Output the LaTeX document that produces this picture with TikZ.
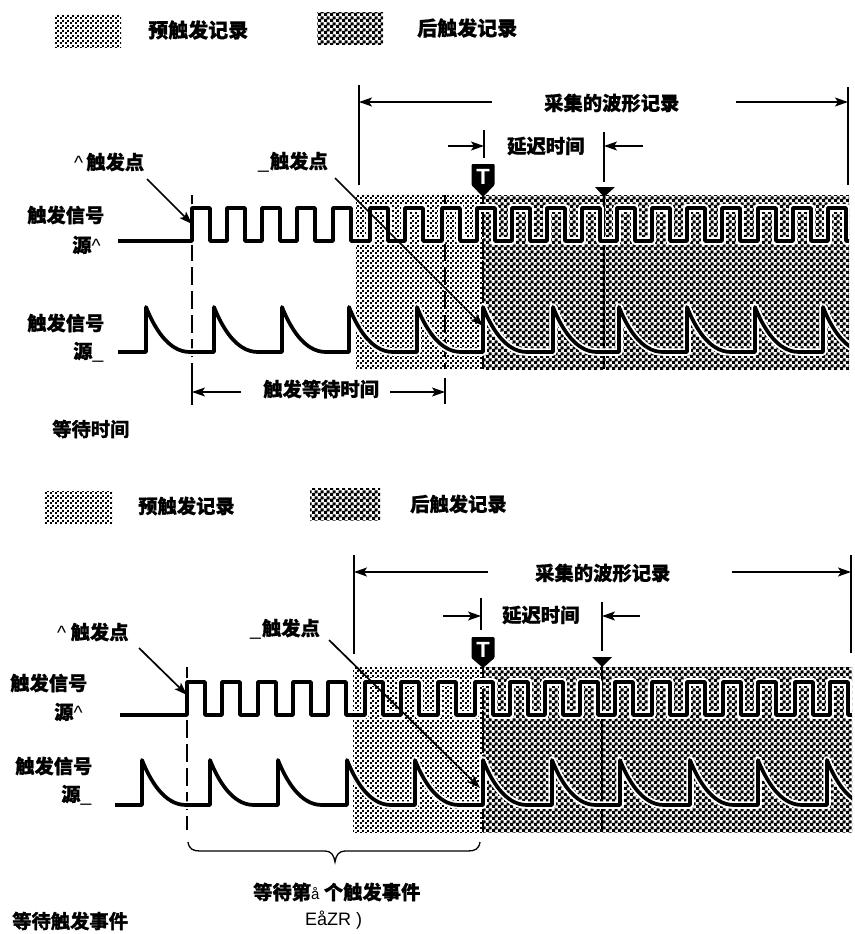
\documentclass[tikz,border=0pt]{standalone}
\usepackage{fontspec}
\usetikzlibrary{arrows.meta,patterns}
\setmainfont{Liberation Sans}
\newfontfamily\cjk{Noto Sans CJK SC}[BoldFeatures={FakeBold=0.7}]
\newfontfamily\cjkh{Noto Sans CJK SC}[UprightFont=* Bold,FakeBold=2]
\pgfdeclarepatternformonly{lightdots}{\pgfpointorigin}{\pgfqpoint{5pt}{5pt}}{\pgfqpoint{5pt}{5pt}}{
  \pgfpathrectangle{\pgfpoint{0pt}{0pt}}{\pgfpoint{2.1pt}{2.1pt}}
  \pgfpathrectangle{\pgfpoint{2.5pt}{2.5pt}}{\pgfpoint{2.1pt}{2.1pt}}
  \pgfusepath{fill}}
\pgfdeclarepatternformonly{darkcheck}{\pgfpointorigin}{\pgfqpoint{6pt}{6pt}}{\pgfqpoint{6pt}{6pt}}{
  \pgfpathrectangle{\pgfpoint{0pt}{0pt}}{\pgfpoint{3.5pt}{3.5pt}}
  \pgfpathrectangle{\pgfpoint{3pt}{3pt}}{\pgfpoint{3.5pt}{3.5pt}}
  \pgfusepath{fill}}
\tikzset{
  lightarea/.style={pattern=lightdots,pattern color=black},
  darkarea/.style={pattern=darkcheck,pattern color=black},
  lbl/.style={inner sep=0pt,anchor=west,font=\fontsize{19.3}{19.3}\selectfont\cjk\bfseries},
  heavy/.style={inner sep=0pt,anchor=west,font=\fontsize{19.3}{19.3}\selectfont\cjkh},
  halo/.style={white,line width=7.5pt,line join=round},
  wave/.style={black,line width=3.7pt,line join=round},
  dim/.style={line width=1.5pt,-{Stealth[length=13pt,width=9pt,inset=3pt]}},
  tick/.style={line width=2.2pt},
  leader/.style={line width=1.7pt,-{Stealth[length=13pt,width=9pt,inset=3pt]}},
  dash1/.style={line width=2.3pt,dash pattern=on 18pt off 6pt},
  heavydash/.style={line width=2.8pt,dash pattern=on 20pt off 2pt},
  solidv/.style={line width=2.5pt},
}
% #1 style, #2 start x, #3 low y, #4 high y, #5 rising edges, #6 end x
\newcommand{\sqwave}[6]{\draw[#1] (#2,#3) \foreach \r in {#5}{ -- (\r,#3) -- (\r,#4) -- ({\r+18},#4) -- ({\r+18},#3) } -- (#6,#3);}
% #1 style, #2 start x, #3 base y, #4 peak y, #5 rising edges
\newcommand{\expwave}[5]{\draw[#1] (#2,#3) \foreach \r in {#5}{ -- (\r,#3) -- (\r,#4) .. controls ({\r+8},{#4+20}) and ({\r+22},#3) .. ({\r+44},#3) };}
\newcommand{\up}{{\rmfamily\mdseries\textasciicircum}}
\newcommand{\ul}{{\rmfamily\mdseries\_}}
\newcommand{\tmark}[3]{\fill[black,rounded corners=1pt] ({#1-11.5},#2) -- ({#1+11.5},#2) -- ({#1+11.5},{#2+21}) -- (#1,#3) -- ({#1-11.5},{#2+21}) -- cycle;
  \node[inner sep=0pt,white,font=\fontsize{22}{22}\selectfont\bfseries] (t#2) at (#1,{#2+13}) {T};}
\begin{document}
\begin{tikzpicture}[x=1pt,y=-1pt]
\useasboundingbox (0,0) rectangle (854,934);
\fill[white] (0,0) rectangle (854,934);

%%%% upper legend
\fill[lightarea] (54,16) rectangle (121,48);
\node[lbl,font=\fontsize{20}{20}\selectfont\cjk\bfseries] (a1) at (148,30) {预触发记录};
\fill[darkarea] (317,13) rectangle (383,45);
\node[lbl,font=\fontsize{20}{20}\selectfont\cjk\bfseries] (a2) at (417,28) {后触发记录};

%%%% upper areas
\fill[lightarea] (356,195) rectangle (483,369);
\fill[darkarea] (483,195) rectangle (849,369);
\draw[solidv] (192,195) -- (192,241);
\draw[dash1] (192,243) -- (192,405);
\draw[dash1] (445,195) -- (445,369);
\draw[heavydash] (483,195) -- (483,369);
\draw[solidv] (604,190) -- (604,369);
\begin{scope}
\clip (100,150) rectangle (849,400);
\sqwave{halo}{118}{241}{208}{192,227,262,297,333,370,405,442,477,512,547,582,617,652,687,722,758,793,828}{849}
\expwave{halo}{118}{352}{307}{146,214,282,349,417,483,553,619,687,755,823}
\sqwave{wave}{118}{241}{208}{192,227,262,297,333,370,405,442,477,512,547,582,617,652,687,722,758,793,828}{849}
\expwave{wave}{118}{352}{307}{146,214,282,349,417,483,553,619,687,755,823}
\end{scope}
% record dimension
\coordinate (r1t) at (359,85); \coordinate (r1b) at (359,185);
\coordinate (r2t) at (848,87); \coordinate (r2b) at (848,185);
\draw[tick] (r1t) -- (r1b); \draw[tick] (r2t) -- (r2b);
\coordinate (r1a) at (492,102); \coordinate (r1e) at (359,102);
\coordinate (r2a) at (736,102); \coordinate (r2e) at (848,102);
\draw[dim] (r1a) -- (r1e); \draw[dim] (r2a) -- (r2e);
\node[lbl] (a3) at (544,103) {采集的波形记录};
% delay dimension
\coordinate (d1t) at (484,130); \coordinate (d1b) at (484,158);
\coordinate (d2t) at (604,132); \coordinate (d2b) at (604,182);
\draw[tick] (d1t) -- (d1b); \draw[tick] (d2t) -- (d2b);
\coordinate (d1a) at (448,146); \coordinate (d1e) at (484,146);
\coordinate (d2a) at (643,146); \coordinate (d2e) at (604,146);
\draw[dim] (d1a) -- (d1e); \draw[dim] (d2a) -- (d2e);
\node[lbl] (a4) at (507,146) {延迟时间};
\tmark{483}{164}{197}
\fill[black] (595,187) -- (615,187) -- (604,197) -- cycle;
% leaders
\node[lbl] (a5) at (74,162) {\up\hspace{3pt}触发点};
\node[lbl] (a6) at (258,162) {\ul\hspace{1pt}触发点};
\coordinate (l1s) at (147,179); \coordinate (l1e) at (192,224);
\draw[leader] (l1s) -- (l1e);
\coordinate (l2s) at (335,178); \coordinate (l2e) at (483,326);
\draw[leader] (l2s) -- (l2e);
\node[lbl] (a7) at (27,215) {触发信号};
\node[lbl] (a8) at (72,245) {源\up};
\node[lbl] (a9) at (27,323) {触发信号};
\node[lbl] (a10) at (73,352) {源\ul};
% holdoff
\coordinate (h1t) at (192,375); \coordinate (h1b) at (192,404);
\coordinate (h2t) at (445,378); \coordinate (h2b) at (445,404);
\draw[tick] (h1t) -- (h1b); \draw[tick] (h2t) -- (h2b);
\coordinate (h1a) at (241,392); \coordinate (h1e) at (192,392);
\coordinate (h2a) at (390,392); \coordinate (h2e) at (445,392);
\draw[dim] (h1a) -- (h1e); \draw[dim] (h2a) -- (h2e);
\node[lbl] (a11) at (263,389) {触发等待时间};
\node[heavy] (a12) at (52,429) {等待时间};

%%%% lower legend
\fill[lightarea] (44,491) rectangle (112,523);
\node[lbl] (b1) at (138,506) {预触发记录};
\fill[darkarea] (310,488) rectangle (380,520);
\node[lbl] (b2) at (410,504) {后触发记录};

%%%% lower areas
\fill[lightarea] (353,667) rectangle (483,832);
\fill[darkarea] (483,667) rectangle (852,832);
\draw[solidv] (187,667) -- (187,715);
\draw[dash1] (187,720) -- (187,830);
\draw[heavydash] (483,667) -- (483,832);
\draw[solidv] (602,660) -- (602,832);
\begin{scope}
\clip (100,640) rectangle (852,840);
\sqwave{halo}{120}{715}{682}{187,222,258,293,328,365,401,438,475,510,545,580,615,652,687,723,758,795,830}{852}
\expwave{halo}{115}{805}{760}{142,210,278,347,415,483,552,620,690,758,827}
\sqwave{wave}{120}{715}{682}{187,222,258,293,328,365,401,438,475,510,545,580,615,652,687,723,758,795,830}{852}
\expwave{wave}{115}{805}{760}{142,210,278,347,415,483,552,620,690,758,827}
\end{scope}
% record dimension
\coordinate (s1t) at (354,555); \coordinate (s1b) at (354,654);
\coordinate (s2t) at (851,555); \coordinate (s2b) at (851,653);
\draw[tick] (s1t) -- (s1b); \draw[tick] (s2t) -- (s2b);
\coordinate (s1a) at (488,572); \coordinate (s1e) at (354,572);
\coordinate (s2a) at (732,572); \coordinate (s2e) at (851,572);
\draw[dim] (s1a) -- (s1e); \draw[dim] (s2a) -- (s2e);
\node[lbl] (b3) at (535,573) {采集的波形记录};
% delay dimension
\coordinate (e1t) at (481,598); \coordinate (e1b) at (481,630);
\coordinate (e2t) at (602,602); \coordinate (e2b) at (602,651);
\draw[tick] (e1t) -- (e1b); \draw[tick] (e2t) -- (e2b);
\coordinate (e1a) at (443,616); \coordinate (e1e) at (481,616);
\coordinate (e2a) at (640,616); \coordinate (e2e) at (602,616);
\draw[dim] (e1a) -- (e1e); \draw[dim] (e2a) -- (e2e);
\node[lbl] (b4) at (502,615) {延迟时间};
\tmark{483}{637}{668}
\fill[black] (592,657) -- (612,657) -- (602,667) -- cycle;
% leaders
\node[lbl] (b5) at (57,632) {\up\ 触发点};
\node[lbl] (b6) at (250,629) {\ul\hspace{1pt}触发点};
\coordinate (m1s) at (139,648); \coordinate (m1e) at (187,695);
\draw[leader] (m1s) -- (m1e);
\coordinate (m2s) at (329,640); \coordinate (m2e) at (480,788);
\draw[leader] (m2s) -- (m2e);
\node[lbl] (b7) at (10,683) {触发信号};
\node[lbl] (b8) at (54,712) {源\up};
\node[lbl] (b9) at (15,766) {触发信号};
\node[lbl] (b10) at (61,795) {源\ul};
% brace
\coordinate (bl) at (188,842); \coordinate (br) at (480,842);
\draw[line width=1.3pt] (bl) .. controls (189,849) and (193,851) .. (200,851) -- (325,851) .. controls (331,851) and (334,855) .. (335,862) .. controls (336,855) and (339,851) .. (345,851) -- (468,851) .. controls (475,851) and (479,849) .. (br);
\node[lbl] (b11) at (253,892) {等待第{\rmfamily\mdseries\fontsize{15}{15}\selectfont å} 个触发事件};
\node[inner sep=0pt,anchor=west,font=\fontsize{18}{18}\selectfont] (b12) at (305,920) {EåZR )};
\node[heavy] (b13) at (12,921) {等待触发事件};
\end{tikzpicture}
\end{document}
